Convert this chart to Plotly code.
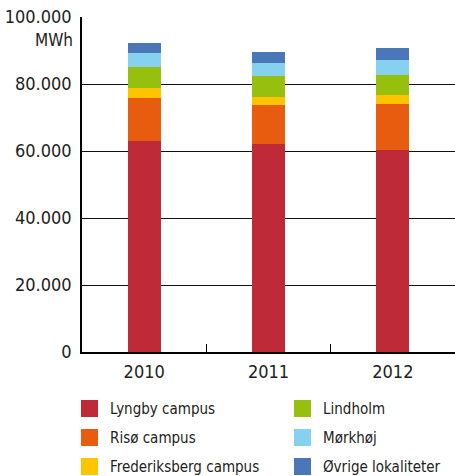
import plotly.graph_objects as go

years = ["2010", "2011", "2012"]
series_names = ["Lyngby campus", "Risø campus", "Frederiksberg campus",
                "Lindholm", "Mørkhøj", "Øvrige lokaliteter"]
lyngby = [63000, 62100, 60300]
riso = [12800, 11600, 13700]
frederiksberg = [3000, 2400, 2700]
lindholm = [6300, 6300, 6000]
morkhoj = [4200, 3900, 4500]
ovrige = [3000, 3300, 3600]
series_values = [lyngby, riso, frederiksberg, lindholm, morkhoj, ovrige]
colors = ["#BE2A37", "#E85C10", "#FEC400", "#97BF0E", "#86D0F0", "#4A77B7"]
ytick_vals = [0, 20000, 40000, 60000, 80000, 100000]
ytick_text = ["0", "20.000", "40.000", "60.000", "80.000", "100.000"]
unit_label = "MWh"

FONT = "DejaVu Sans Condensed, Noto Sans, sans-serif"
W, H = 455, 476
ML, MR, MT, MB = 82, 0, 17, 124
PW, PH = W - ML - MR, H - MT - MB


def px(x):
    return (x - ML) / PW


def py(y):
    return (H - MB - y) / PH


fig = go.Figure()
for name, vals, col in zip(series_names, series_values, colors):
    fig.add_trace(go.Bar(x=years, y=vals, name=name, marker_color=col,
                         marker_line_width=0, width=0.265, showlegend=False))

shapes = []
annotations = []
# manual legend: two columns, three rows
col_x = [81, 294]
row_top = [400, 429, 458]
for i, (name, col) in enumerate(zip(series_names, colors)):
    c, r = divmod(i, 3)
    x0 = col_x[c]
    y0 = row_top[r]
    shapes.append(dict(type="rect", xref="paper", yref="paper",
                       x0=px(x0), x1=px(x0 + 17), y0=py(y0), y1=py(y0 + 17),
                       fillcolor=col, line_width=0, layer="above"))
    annotations.append(dict(text=name, xref="paper", yref="paper",
                            x=px(x0 + 27), y=py(y0 + 9), xanchor="left",
                            yanchor="middle", showarrow=False,
                            font=dict(family=FONT, size=15, color="#222222")))

annotations.append(dict(text=unit_label, xref="paper", yref="paper",
                        x=px(75), y=py(40), xanchor="right", yanchor="middle",
                        showarrow=False,
                        font=dict(family=FONT, size=17, color="#222222")))

fig.update_layout(
    width=W, height=H,
    margin=dict(l=ML, r=MR, t=MT, b=MB, pad=0),
    barmode="stack",
    plot_bgcolor="white", paper_bgcolor="white",
    font=dict(family=FONT, size=18, color="#222222"),
    shapes=shapes, annotations=annotations,
    xaxis=dict(range=[-0.5, 2.5], showline=True, linecolor="black",
               linewidth=1.5, ticks="inside", tickson="boundaries",
               ticklen=8, tickcolor="black", tickwidth=1.2,
               showgrid=False, tickfont=dict(size=18), ticklabelstandoff=3),
    yaxis=dict(range=[0, 100000], tickvals=ytick_vals, ticktext=ytick_text,
               showline=True, linecolor="black", linewidth=1.5,
               showgrid=True, gridcolor="#111111", gridwidth=1.3,
               zeroline=False, ticks="", tickfont=dict(size=18),
               ticklabelstandoff=5),
)

fig.write_html(
    "out.html",
    config={"displayModeBar": False},
    post_script="document.body.style.margin='0';document.body.style.padding='0';"
                "document.body.style.overflow='hidden';",
)
